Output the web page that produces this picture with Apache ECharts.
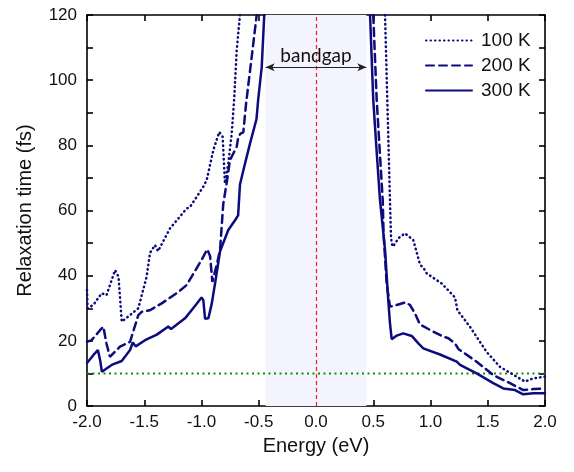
<!DOCTYPE html>
<html><head><meta charset="utf-8">
<script src="https://cdn.jsdelivr.net/npm/echarts@6.0.0/dist/echarts.min.js"></script>
<style>html,body{margin:0;padding:0;background:#fff}#c{width:574px;height:472px}</style>
</head><body><div id="c"></div>
<script>
// Energy (eV), relaxation time (fs)
const t100Left = [[-2.0,35.6],[-1.995,30],[-1.945,31],[-1.872,34.6],[-1.83,34],[-1.755,41.7],[-1.725,39.7],[-1.697,25.9],[-1.624,27.9],[-1.552,30],[-1.479,39.7],[-1.45,47],[-1.406,49.4],[-1.38,47.5],[-1.275,54.5],[-1.13,60.6],[-1.1,61.1],[-0.984,67.3],[-0.955,69.3],[-0.897,78.5],[-0.845,84.1],[-0.815,82.6],[-0.795,68.3],[-0.766,74.4],[-0.736,83.6],[-0.715,94],[-0.693,109],[-0.664,120]];
const t100Right = [[0.603,120],[0.646,63.2],[0.655,52],[0.661,49.9],[0.672,48.9],[0.72,51.5],[0.777,53],[0.85,50.9],[0.908,43.5],[0.952,41.7],[0.967,40.7],[1.098,37.6],[1.214,33.3],[1.235,29.4],[1.345,24.3],[1.49,16.6],[1.607,12],[1.753,9],[1.825,7.5],[1.898,8.5],[2.0,9]];
const t200Left = [[-2.0,19.7],[-1.96,20.2],[-1.88,23.5],[-1.857,24.3],[-1.83,19.2],[-1.8,15.1],[-1.712,18.2],[-1.624,19.7],[-1.552,27.9],[-1.522,28.9],[-1.45,29.4],[-1.348,31.5],[-1.217,34.6],[-1.13,37.1],[-1.0,44.8],[-0.95,48.1],[-0.925,46],[-0.905,38.1],[-0.89,38.5],[-0.867,43.3],[-0.838,47.9],[-0.81,62],[-0.78,68.5],[-0.751,75.5],[-0.693,79.5],[-0.678,82.6],[-0.66,83.6],[-0.635,84],[-0.61,93],[-0.562,107],[-0.518,120]];
const t200Right = [[0.5,120],[0.53,94],[0.583,63],[0.59,53],[0.617,37.6],[0.646,30.5],[0.705,31],[0.78,31.8],[0.821,31],[0.865,28.4],[0.908,25],[1.025,22.8],[1.112,21.3],[1.156,20.8],[1.214,19.2],[1.243,17.5],[1.403,13.6],[1.548,9.5],[1.694,7],[1.81,4.9],[1.9,5.2],[2.0,5.4]];
const t300Left = [[-2.0,13.2],[-1.945,15.6],[-1.905,17.2],[-1.885,14],[-1.87,10.5],[-1.785,12.6],[-1.697,13.8],[-1.624,17.2],[-1.6,19.5],[-1.575,18.3],[-1.493,20.2],[-1.39,21.9],[-1.29,24.4],[-1.266,23.6],[-1.144,26.9],[-1.057,30.7],[-1.0,33.3],[-0.984,32.5],[-0.969,26.8],[-0.94,26.9],[-0.91,31.5],[-0.88,38],[-0.838,47.5],[-0.766,54],[-0.707,57],[-0.68,58.5],[-0.664,68],[-0.62,74.4],[-0.576,80.6],[-0.52,88],[-0.505,94],[-0.474,104],[-0.452,120]];
const t300Right = [[0.472,120],[0.5,94],[0.53,78],[0.559,63.2],[0.603,47.9],[0.631,32.5],[0.646,25.4],[0.661,20.5],[0.7,21.5],[0.762,22.3],[0.836,21.5],[0.894,19.2],[0.937,17.7],[1.083,15.8],[1.229,13.6],[1.258,12.6],[1.403,10],[1.548,7],[1.636,5.4],[1.738,4.9],[1.81,3.6],[1.9,3.9],[2.0,3.9]];
const seriesNames = ['100 K','200 K','300 K'];
const refLevel = 10;
const bandgap = [-0.44, 0.44];
const bandgapArrowY = 104;
const xTicks = {min:-2, max:2, step:0.5};
const yTicks = {min:0, max:120, step:10, labelStep:20};

const navy = '#0c0c7e';
const font = 'Liberation Sans, Arial, sans-serif';
function mk(name, data, type) {
  return {name, type:'line', data, symbol:'none', showSymbol:false, clip:true,
    lineStyle:{color:navy, width:2.5, type, cap:'round'}, itemStyle:{color:navy}, z:5};
}
const dotted = [0.5, 4];
const dashed = [8, 5];
const chart = echarts.init(document.getElementById('c'), null, {renderer:'canvas'});
const axisLine = {show:true, onZero:false, lineStyle:{color:'#000', width:1.6}};
const axisTick = {show:true, inside:true, length:6, lineStyle:{color:'#000', width:1.6}};
chart.setOption({
  animation:false,
  grid:{left:87, right:29, top:15, bottom:66},
  legend:{data:seriesNames, orient:'vertical', left:425, top:31, padding:0, itemGap:6,
    itemWidth:46, itemHeight:14,
    itemStyle:{color:'rgba(0,0,0,0)', borderColor:'rgba(0,0,0,0)', borderWidth:0, opacity:0},
    textStyle:{fontSize:19, fontFamily:font, color:'#111', padding:[0,0,0,4]}},
  xAxis:[
    {type:'value', min:xTicks.min, max:xTicks.max, interval:xTicks.step, axisLine, axisTick,
     splitLine:{show:false},
     axisLabel:{formatter:v=>v.toFixed(1), fontSize:17, fontFamily:font, color:'#111', margin:8},
     name:'Energy (eV)', nameLocation:'middle', nameGap:30,
     nameTextStyle:{fontSize:20, fontFamily:font, color:'#111'}},
    {type:'value', position:'top', min:xTicks.min, max:xTicks.max, interval:xTicks.step, axisLine, axisTick,
     splitLine:{show:false}, axisLabel:{show:false}}
  ],
  yAxis:[
    {type:'value', min:yTicks.min, max:yTicks.max, interval:yTicks.step, axisLine, axisTick,
     splitLine:{show:false},
     axisLabel:{formatter:v=>(v % yTicks.labelStep === 0 ? String(v) : ''), fontSize:17, fontFamily:font, color:'#111', margin:10},
     name:'Relaxation time (fs)', nameLocation:'middle', nameGap:52,
     nameTextStyle:{fontSize:20, fontFamily:font, color:'#111'}},
    {type:'value', position:'right', min:yTicks.min, max:yTicks.max, interval:yTicks.step, axisLine, axisTick,
     splitLine:{show:false}, axisLabel:{show:false}}
  ],
  series:[
    {name:'ref', type:'line', data:[[xTicks.min, refLevel],[xTicks.max, refLevel]], symbol:'none', z:3,
     lineStyle:{color:'#108a10', width:2, type:[2,3.5]},
     markArea:{silent:true, itemStyle:{color:'rgb(244,244,254)'}, data:[[{xAxis:bandgap[0]},{xAxis:bandgap[1]}]]},
     markLine:{silent:true, symbol:['none','none'], animation:false, data:[
        [{coord:[0, yTicks.min], lineStyle:{color:'#ff1a1a', width:1.2, type:[4,3]}, label:{show:false}},
         {coord:[0, yTicks.max]}],
        [{coord:[bandgap[0], bandgapArrowY], symbol:'arrow', lineStyle:{color:'#222', width:1, type:'solid'},
          label:{show:true, formatter:'bandgap', position:'insideMiddleTop', distance:2, fontSize:19, fontFamily:'Lato, Open Sans, sans-serif', color:'#111'}},
         {coord:[bandgap[1], bandgapArrowY], symbol:'arrow'}]
     ], symbolSize:[6,9]}},
    mk('100 K', t100Left, dotted), mk('100 K', t100Right, dotted),
    mk('200 K', t200Left, dashed), mk('200 K', t200Right, dashed),
    mk('300 K', t300Left, 'solid'), mk('300 K', t300Right, 'solid')
  ]
});
</script></body></html>
